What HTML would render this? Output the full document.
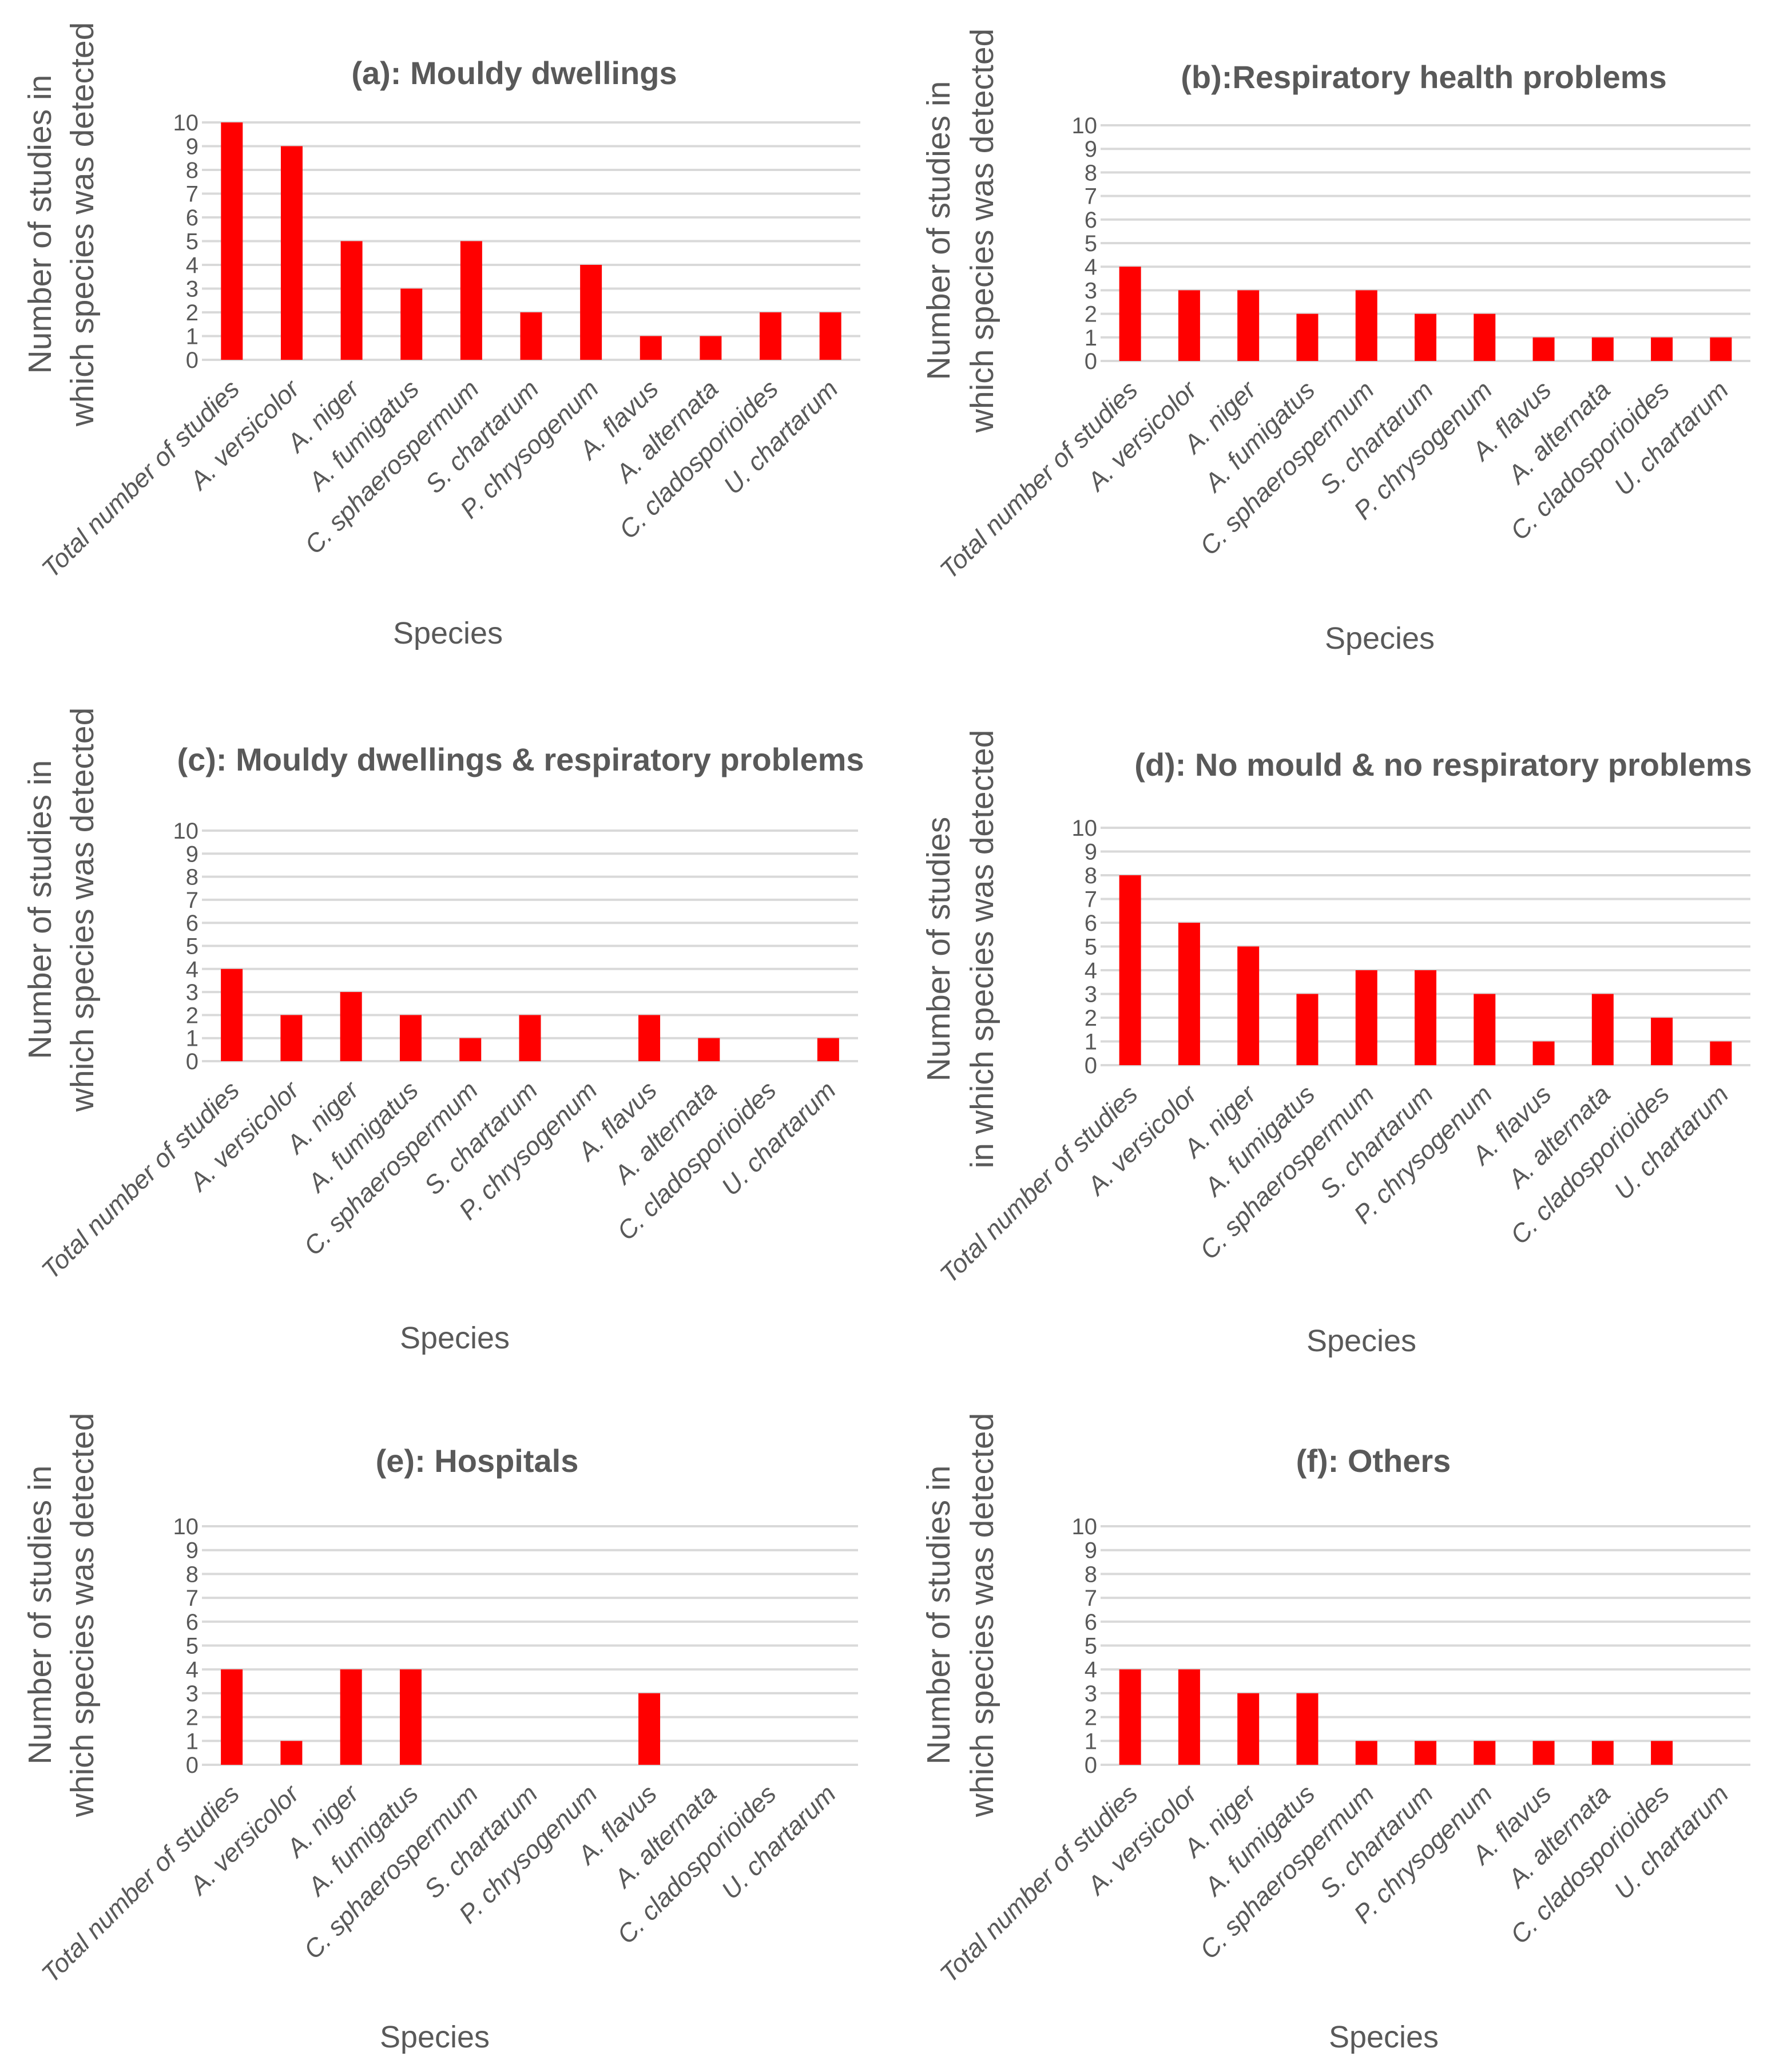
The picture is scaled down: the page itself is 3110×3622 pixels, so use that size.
<!DOCTYPE html>
<html><head><meta charset="utf-8"><style>
html,body{margin:0;padding:0;background:#fff;}
svg{display:block;font-family:"Liberation Sans",sans-serif;}
</style></head><body>
<svg id="fig" width="3110" height="3622" viewBox="0 0 3110 3622" xmlns="http://www.w3.org/2000/svg"></svg>
<script>
const categories = ["Total number of studies","A. versicolor","A. niger","A. fumigatus","C. sphaerospermum","S. chartarum","P. chrysogenum","A. flavus","A. alternata","C. cladosporioides","U. chartarum"];
const tickLabels = ["0","1","2","3","4","5","6","7","8","9","10"];
const valuesA = [10,9,5,3,5,2,4,1,1,2,2];
const valuesB = [4,3,3,2,3,2,2,1,1,1,1];
const valuesC = [4,2,3,2,1,2,0,2,1,0,1];
const valuesD = [8,6,5,3,4,4,3,1,3,2,1];
const valuesE = [4,1,4,4,0,0,0,3,0,0,0];
const valuesF = [4,4,3,3,1,1,1,1,1,1,0];
const titles = ["(a): Mouldy dwellings","(b):Respiratory health problems","(c): Mouldy dwellings & respiratory problems","(d): No mould & no respiratory problems","(e): Hospitals","(f): Others"];
const panels = [
 {id:"a",vals:valuesA,x0:353,x1:1504,y10:214,y0:629,tx:899,ty:127,yl:[69,143],yc:392,sx:783,sy:1106,yt:["Number of studies in","which species was detected"]},
 {id:"b",vals:valuesB,x0:1924,x1:3060,y10:219,y0:631,tx:2489,ty:134,yl:[1640,1716],yc:403,sx:2412,sy:1115,yt:["Number of studies in","which species was detected"]},
 {id:"c",vals:valuesC,x0:353,x1:1500,y10:1452,y0:1855,tx:910,ty:1327,yl:[69,143],yc:1590,sx:795,sy:2338,yt:["Number of studies in","which species was detected"]},
 {id:"d",vals:valuesD,x0:1924,x1:3060,y10:1447,y0:1862,tx:2523,ty:1336,yl:[1640,1716],yc:1659,sx:2380,sy:2343,yt:["Number of studies","in which species was detected"]},
 {id:"e",vals:valuesE,x0:353,x1:1500,y10:2668,y0:3085,tx:834,ty:2553,yl:[69,143],yc:2823,sx:760,sy:3560,yt:["Number of studies in","which species was detected"]},
 {id:"f",vals:valuesF,x0:1924,x1:3060,y10:2668,y0:3085,tx:2401,ty:2553,yl:[1640,1716],yc:2823,sx:2419,sy:3560,yt:["Number of studies in","which species was detected"]}
];
const NS="http://www.w3.org/2000/svg";
const svg=document.getElementById("fig");
function mk(tag,attrs,parent,text){const e=document.createElementNS(NS,tag);for(const k in attrs)e.setAttribute(k,attrs[k]);if(text!==undefined)e.textContent=text;parent.appendChild(e);return e;}
panels.forEach((p,pi)=>{
 const g=mk("g",{},svg);
 
 
 const yS=v=>p.y0-(p.y0-p.y10)*v/10;
 const step=(p.x1-p.x0)/categories.length;
 const xC=i=>p.x0+step*(i+0.5);
 tickLabels.forEach((t,i)=>{
  const v=+t;
  const l=mk("line",{x1:p.x0,x2:p.x1,y1:yS(v),y2:yS(v),stroke:"#d9d9d9","stroke-width":4},g);
  
  
  const tx=mk("text",{x:p.x0-6,y:yS(v)+14,"text-anchor":"end","font-size":40,fill:"#595959"},g,t);
  
  
 });
 p.vals.forEach((v,i)=>{
  if(v>0){
   const r=mk("rect",{x:xC(i)-19,y:yS(v),width:38,height:yS(0)-yS(v),fill:"#ff0000"},g);
   
   
  }
  const lx=xC(i)+16, ly=p.y0+54;
  const c=mk("text",{x:lx,y:ly,"text-anchor":"end","font-size":45,"font-style":"italic",fill:"#595959",transform:`rotate(-45 ${lx} ${ly})`},g,categories[i]);
  
  
 });
 const ti=mk("text",{x:p.tx,y:p.ty+20,"text-anchor":"middle","font-size":56,"font-weight":"bold",fill:"#595959"},g,titles[pi]);
 
 
 p.yt.forEach((s,k)=>{
  const x=p.yl[k]+20;
  const t=mk("text",{x:x,y:p.yc,"text-anchor":"middle","font-size":57,fill:"#595959",transform:`rotate(-90 ${x} ${p.yc})`},g,s);
  
  
 });
 const sp=mk("text",{x:p.sx,y:p.sy+19,"text-anchor":"middle","font-size":54,fill:"#595959"},g,"Species");
 
 
});
</script>
</body></html>
